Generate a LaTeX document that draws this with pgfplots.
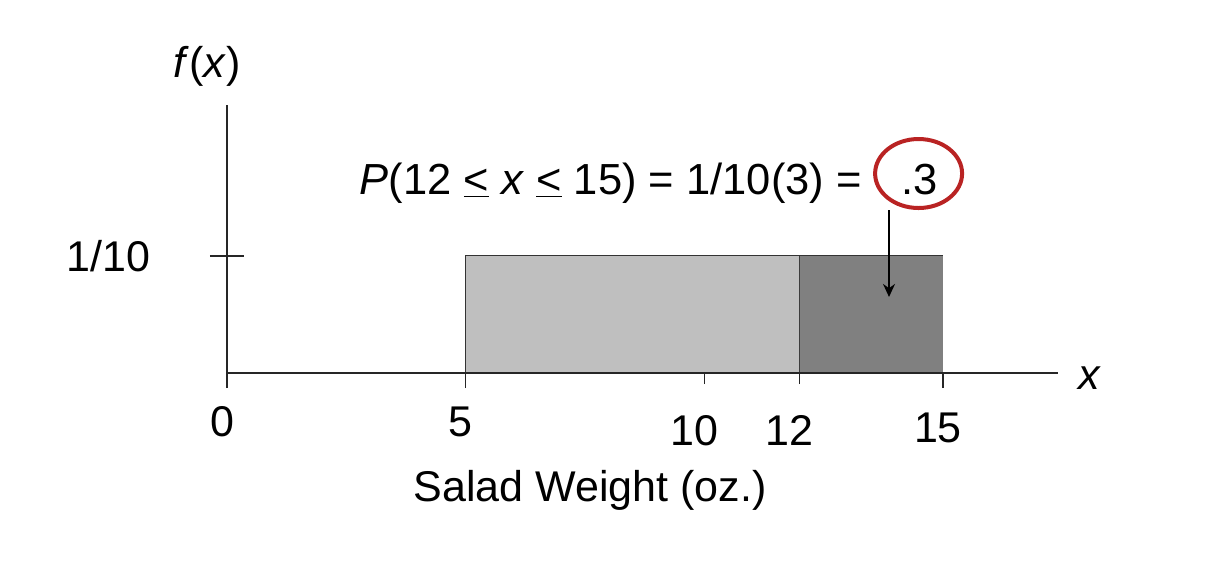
\documentclass[border=0pt]{standalone}
\usepackage{pgfplots}
\pgfplotsset{compat=1.18}
\usepackage{fontspec}
\setmainfont{Liberation Sans}
\usetikzlibrary{arrows.meta}
\definecolor{circred}{RGB}{185,35,35}
\begin{document}
\begin{tikzpicture}[font=\fontsize{43}{50}\selectfont]
\useasboundingbox (-227pt,-189pt) rectangle (997pt,373pt);
\begin{axis}[
  at={(0pt,0pt)}, anchor=south west,
  scale only axis,
  x=47.73pt, y=1170pt,
  xmin=0, xmax=17.41, ymin=0, ymax=0.229,
  axis lines*=left,
  clip=false,
  axis line style={black!85, line width=1.3pt},
  every tick/.style={black!85, line width=1.3pt},
  /pgf/number format/assume math mode=true,
  tick label style={font=\fontsize{43}{50}\selectfont},
  major tick length=15pt,
  tick align=outside,
  xtick={0,5,15},
  xticklabels={0,5,\raisebox{-6pt}[\height][0pt]{15}},
  x tick label style={xshift=-5pt, yshift=-15pt},
  extra x ticks={10,12},
  extra x tick labels={10,12},
  extra x tick style={tick align=center, major tick length=22pt,
     x tick label style={xshift=-5pt, yshift=-13pt}},
  ytick=\empty,
  extra y ticks={0.1},
  extra y tick labels={1/10},
  extra y tick style={tick align=center, major tick length=34pt,
     y tick label style={xshift=-56pt}},
  xlabel={Salad Weight (oz.)},
  xlabel style={at={(rel axis cs:0.4368,-0.4366)}, anchor=center, font=\fontsize{43}{50}\selectfont},
  ylabel={\textit{f}(\textit{x})},
  ylabel style={at={(rel axis cs:-0.024,1.1455)}, anchor=center, rotate=-90, font=\fontsize{43}{50}\selectfont},
]
\addplot[fill=black!25, draw=black!80, line width=1pt] coordinates {(5,0) (5,0.1) (12,0.1) (12,0)} \closedcycle;
\addplot[fill=black!50, draw=none] coordinates {(12,0) (12,0.1) (15,0.1) (15,0)} \closedcycle;
\addplot[black!80, line width=1pt] coordinates {(12,0.1) (15,0.1)};
\addplot[black!85, line width=1.3pt] coordinates {(0,0) (17.41,0)};
\node[anchor=base west, inner sep=0pt, font=\fontsize{43.5}{50}\selectfont] at (axis cs:2.78,0.1525)
  {\textit{P}(12 \underline{<} \textit{x} \underline{<} 15) = 1/10(3) =\hspace{40pt}.3};
\draw[circred, line width=4pt] (axis cs:14.49,0.1705) ellipse [x radius=43.5pt, y radius=34.5pt];
\draw[black, line width=1.3pt, -{Stealth[length=13pt,width=12pt]}] (axis cs:13.87,0.1393) -- (axis cs:13.87,0.065);
\node[anchor=center] at (rel axis cs:1.0385,-0.019) {\textit{x}};
\end{axis}
\end{tikzpicture}
\end{document}
